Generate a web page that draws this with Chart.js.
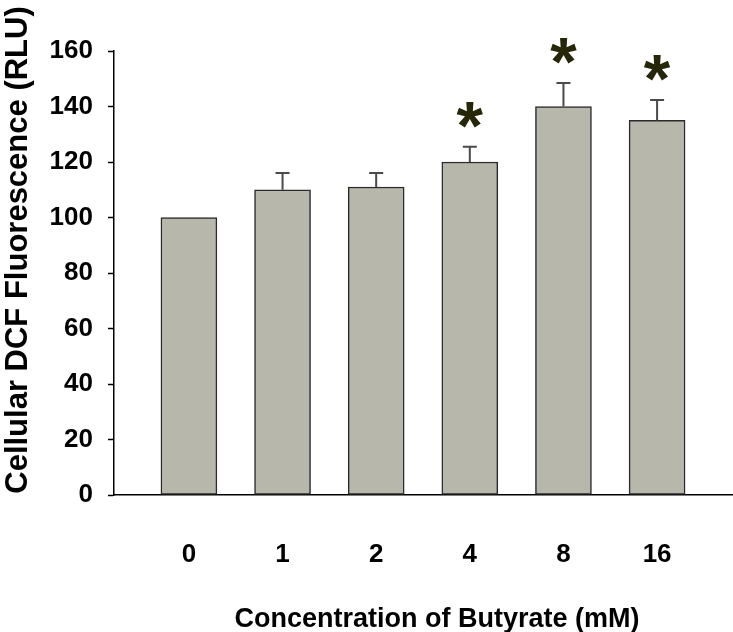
<!DOCTYPE html>
<html>
<head>
<meta charset="utf-8">
<script src="https://cdn.jsdelivr.net/npm/chart.js@4.4.1/dist/chart.umd.min.js"></script>
<style>
  html, body { margin: 0; padding: 0; background: #fff; }
  #wrap { width: 733px; height: 632px; }
</style>
</head>
<body>
<div id="wrap"><canvas id="dcfChart" width="733" height="632"></canvas></div>
<script>
// butyrate dose vs DCF fluorescence
var doses = ['0', '1', '2', '4', '8', '16'];
var meanRlu = [100, 110, 111, 120, 140, 135];
var errUp = [0, 6, 5, 5.5, 8.5, 7.3];
var signif = [false, false, false, true, true, true];
var yTicks = [0, 20, 40, 60, 80, 100, 120, 140, 160];
var xTitle = 'Concentration of Butyrate (mM)';
var yTitle = 'Cellular DCF Fluorescence (RLU)';

var FONT = 'Liberation Sans, Arial, sans-serif';

// whiskers (upward only), stars, axis titles
var extrasPlugin = {
    id: 'extras',
    afterDatasetsDraw: function(chart) {
        var ctx = chart.ctx;
        var xs = chart.scales.x, ys = chart.scales.y;
        ctx.save();
        ctx.strokeStyle = '#4a4a4a';
        ctx.lineWidth = 2;
        meanRlu.forEach(function(v, i) {
            if (!errUp[i]) return;
            var x = xs.getPixelForValue(i);
            var y0 = ys.getPixelForValue(v);
            var y1 = ys.getPixelForValue(v + errUp[i]);
            ctx.beginPath();
            ctx.moveTo(x, y0);
            ctx.lineTo(x, y1);
            ctx.moveTo(x - 7, y1);
            ctx.lineTo(x + 7, y1);
            ctx.stroke();
        });
        // star size from glyph metrics
        ctx.font = 'bold 100px ' + FONT;
        var m = ctx.measureText('*');
        var h100 = m.actualBoundingBoxAscent + m.actualBoundingBoxDescent;
        var size = Math.round(26 / h100 * 100);
        ctx.font = 'bold ' + size + 'px ' + FONT;
        m = ctx.measureText('*');
        ctx.fillStyle = '#262609';
        ctx.textAlign = 'center';
        ctx.textBaseline = 'alphabetic';
        signif.forEach(function(s, i) {
            if (!s) return;
            var x = xs.getPixelForValue(i);
            var top = ys.getPixelForValue(meanRlu[i] + errUp[i]);
            var cy = top - 32;
            var base = cy + (m.actualBoundingBoxAscent - m.actualBoundingBoxDescent) / 2;
            ctx.fillText('*', x, base);
        });

        ctx.fillStyle = '#000';
        ctx.textAlign = 'center';
        ctx.textBaseline = 'alphabetic';
        ctx.font = 'bold 27px ' + FONT;
        ctx.fillText(xTitle, 437, 627);

        ctx.translate(27, 250);
        ctx.rotate(-Math.PI / 2);
        ctx.font = 'bold 31px ' + FONT;
        ctx.fillText(yTitle, 0, 0);
        ctx.restore();
    }
};

new Chart(document.getElementById('dcfChart'), {
    type: 'bar',
    data: {
        datasets: [{
            data: meanRlu.map(function(v, i) { return { x: i, y: v }; }),
            backgroundColor: '#b7b7ab',
            borderColor: '#2a2a2a',
            borderWidth: 1.5,
            borderSkipped: false,
            barThickness: 56
        }]
    },
    options: {
        responsive: false,
        animation: false,
        layout: { padding: { top: 51, right: 1, left: 0, bottom: 0 } },
        plugins: { legend: { display: false }, tooltip: { enabled: false } },
        scales: {
            x: {
                type: 'linear',
                offset: false,
                min: -0.8,
                max: 5.8,
                afterBuildTicks: function(scale) {
                    scale.ticks = doses.map(function(d, i) { return { value: i }; });
                },
                afterFit: function(scale) { scale.height = 137; },
                grid: { display: false },
                border: { display: true, color: '#000', width: 1.5 },
                ticks: {
                    autoSkip: false,
                    maxRotation: 0,
                    padding: 36,
                    color: '#000',
                    font: { family: FONT, size: 26, weight: 'bold' },
                    callback: function(v) { return doses[v]; }
                }
            },
            y: {
                min: 0,
                max: 160,
                afterBuildTicks: function(scale) {
                    scale.ticks = yTicks.map(function(t) { return { value: t }; });
                },
                afterFit: function(scale) { scale.width = 114; },
                grid: { display: true, drawOnChartArea: false, tickLength: 6, tickColor: '#000', tickWidth: 1.5 },
                border: { display: true, color: '#000', width: 1.5 },
                ticks: {
                    padding: 15,
                    color: '#000',
                    font: { family: FONT, size: 26, weight: 'bold' }
                }
            }
        }
    },
    plugins: [extrasPlugin]
});
</script>
</body>
</html>
